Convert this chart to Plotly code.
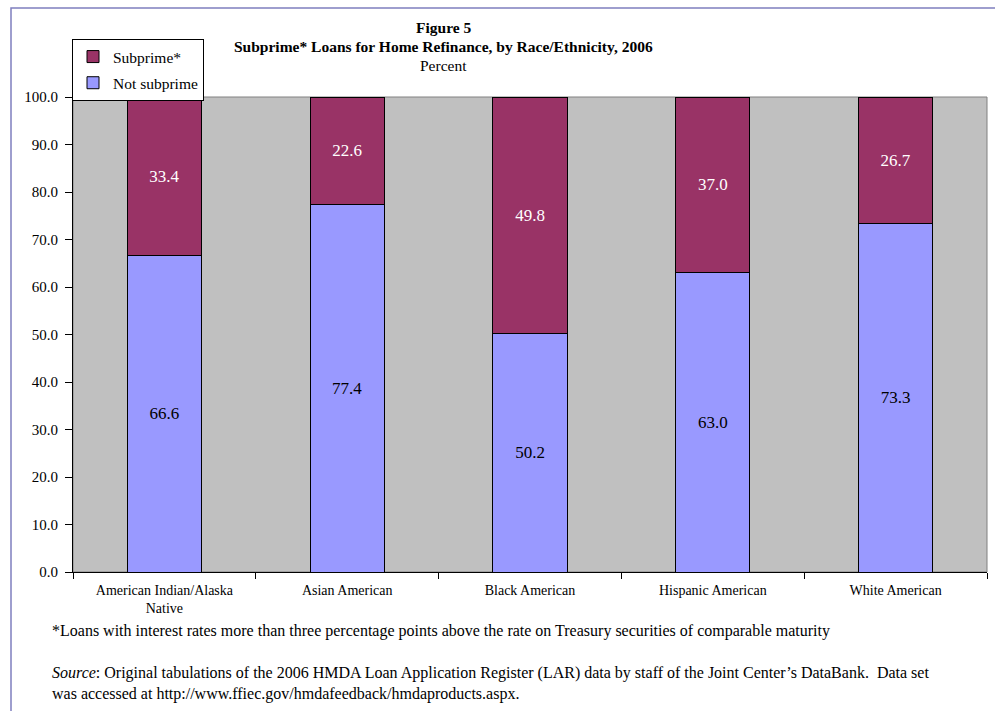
import plotly.graph_objects as go

categories = ["American Indian/Alaska<br>Native", "Asian American", "Black American",
              "Hispanic American", "White American"]
not_subprime = [66.6, 77.4, 50.2, 63.0, 73.3]
subprime = [33.4, 22.6, 49.8, 37.0, 26.7]

FONT = "Liberation Serif, Times New Roman, serif"
W, H = 995, 711
L, R, T, B = 73, 8, 97, 139
pw = W - L - R
ph = H - T - B

def xp(px):
    return (px - L) / pw

def yp(py):
    return (H - B - py) / ph

fig = go.Figure()
fig.add_trace(go.Bar(
    x=categories, y=not_subprime, name="Not subprime",
    marker=dict(color="#9999FF", line=dict(color="#000000", width=1)),
    texttemplate="%{y:.1f}", textposition="inside", insidetextanchor="middle",
    textangle=0, insidetextfont=dict(family=FONT, size=17, color="#000000"),
    legendgroup="b", legendrank=2, width=0.405,
))
fig.add_trace(go.Bar(
    x=categories, y=subprime, name="Subprime*",
    marker=dict(color="#993366", line=dict(color="#000000", width=1)),
    texttemplate="%{y:.1f}", textposition="inside", insidetextanchor="middle",
    textangle=0, insidetextfont=dict(family=FONT, size=17, color="#FFFFFF"),
    legendgroup="a", legendrank=1, width=0.405,
))

shapes = [
    dict(type="rect", xref="paper", yref="paper", x0=0, x1=1, y0=0, y1=1,
         line=dict(color="#808080", width=1), layer="below"),
    dict(type="rect", xref="paper", yref="paper", x0=xp(11), x1=xp(1010),
         y0=yp(730), y1=yp(8), line=dict(color="#7F7FBF", width=1.5)),
]

annotations = [
    dict(text="<b>Figure 5</b>", x=xp(443), y=yp(27), xref="paper", yref="paper",
         showarrow=False, font=dict(family=FONT, size=15.5, color="#000"), xanchor="center", yanchor="middle"),
    dict(text="<b>Subprime* Loans for Home Refinance, by Race/Ethnicity, 2006</b>", x=xp(443), y=yp(46),
         xref="paper", yref="paper", showarrow=False, font=dict(family=FONT, size=15.5, color="#000"),
         xanchor="center", yanchor="middle"),
    dict(text="Percent", x=xp(443), y=yp(66), xref="paper", yref="paper", showarrow=False,
         font=dict(family=FONT, size=15.5, color="#000"), xanchor="center", yanchor="middle"),
    dict(text="*Loans with interest rates more than three percentage points above the rate on Treasury securities of comparable maturity",
         x=xp(50), y=yp(631), xref="paper", yref="paper", showarrow=False,
         font=dict(family=FONT, size=16, color="#000"), xanchor="left", yanchor="middle", align="left"),
    dict(text="<i>Source</i>: Original tabulations of the 2006 HMDA Loan Application Register (LAR) data by staff of the Joint Center\u2019s DataBank.  Data set<br>was accessed at http://www.ffiec.gov/hmdafeedback/hmdaproducts.aspx.",
         x=xp(50), y=yp(683), xref="paper", yref="paper", showarrow=False,
         font=dict(family=FONT, size=16, color="#000"), xanchor="left", yanchor="middle", align="left"),
]

fig.update_layout(
    width=W, height=H,
    margin=dict(l=L, r=R, t=T, b=B, pad=0),
    barmode="stack",
    plot_bgcolor="#C0C0C0", paper_bgcolor="#FFFFFF",
    font=dict(family=FONT, color="#000000"),
    showlegend=True,
    legend=dict(x=xp(72), y=yp(39), xanchor="left", yanchor="top",
                bgcolor="#FFFFFF", bordercolor="#000000", borderwidth=1,
                traceorder="grouped", tracegroupgap=3,
                font=dict(family=FONT, size=15.5, color="#000"), itemwidth=30),
    xaxis=dict(showgrid=False, showline=True, linecolor="#000", linewidth=1,
               ticks="outside", ticklen=6, tickcolor="#000", tickson="boundaries",
               ticklabelstandoff=5,
               tickfont=dict(family=FONT, size=14, color="#000")),
    yaxis=dict(range=[0, 100], dtick=10, tickformat=".1f", showgrid=False,
               showline=True, linecolor="#000", linewidth=1, ticks="outside",
               ticklen=7, tickcolor="#000", zeroline=False, ticklabelstandoff=4,
               tickfont=dict(family=FONT, size=15, color="#000")),
    shapes=shapes, annotations=annotations,
)

fig.write_html("out.html", post_script="document.body.style.margin='0';",
               config={"displayModeBar": False})
